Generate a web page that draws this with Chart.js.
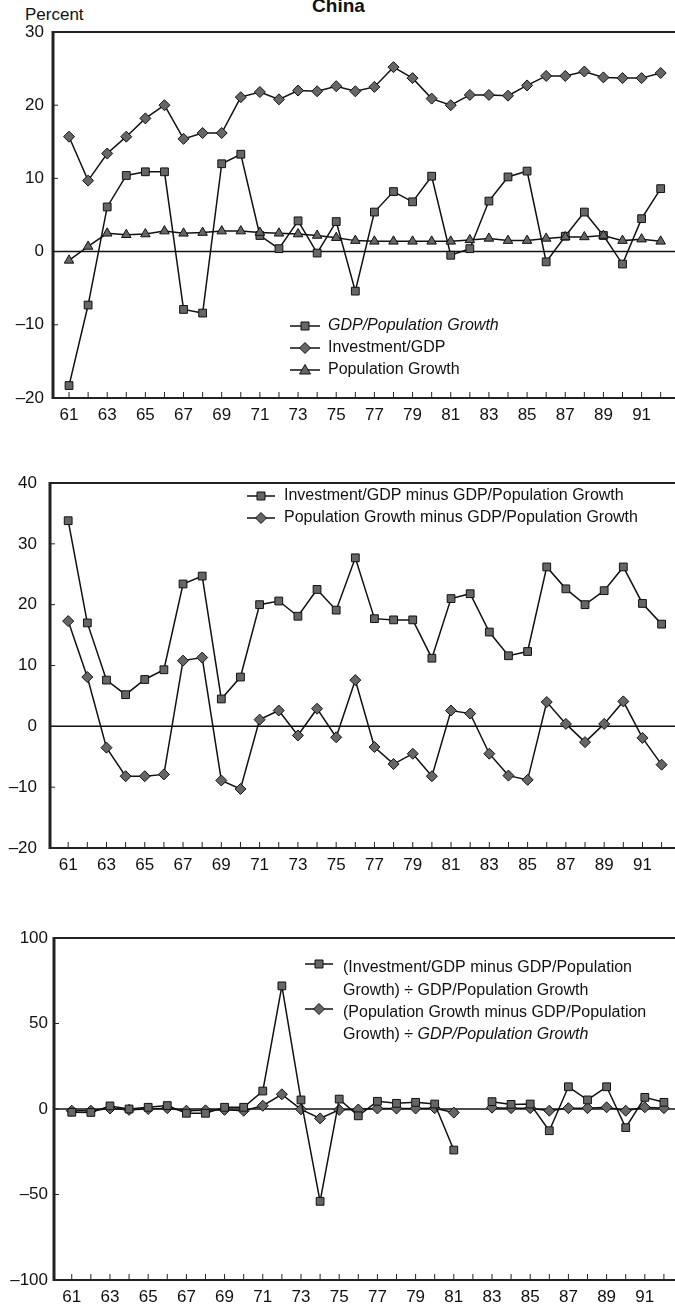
<!DOCTYPE html>
<html>
<head>
<meta charset="utf-8">
<script src="https://cdn.jsdelivr.net/npm/chart.js@4.4.0/dist/chart.umd.min.js"></script>
<style>
  body { margin: 0; background: #fff; width: 675px; height: 1310px; position: relative; overflow: hidden;
         font-family: "Liberation Sans", Arial, sans-serif; color: #111; }
  canvas { position: absolute; left: 0; }
  #title { position: absolute; left: 0; width: 675px; top: -5px; text-align: center; font-weight: bold; font-size: 19px; padding-left: 1px; }
  #unit { position: absolute; left: 25px; top: 5px; font-size: 17px; }
</style>
</head>
<body>
<div id="title">China</div>
<div id="unit">Percent</div>
<canvas id="c1" width="675" height="430" style="top:0"></canvas>
<canvas id="c2" width="675" height="440" style="top:440px"></canvas>
<canvas id="c3" width="675" height="410" style="top:900px"></canvas>
<script>
const years = [61, 62, 63, 64, 65, 66, 67, 68, 69, 70, 71, 72, 73, 74, 75, 76,
               77, 78, 79, 80, 81, 82, 83, 84, 85, 86, 87, 88, 89, 90, 91, 92];
const xLabelYears = [61, 63, 65, 67, 69, 71, 73, 75, 77, 79, 81, 83, 85, 87, 89, 91];

// top panel
const gdpPopGrowth = [-18.3, -7.3, 6.1, 10.4, 10.9, 10.9, -7.9, -8.4, 12.0, 13.3,
                      2.2, 0.4, 4.2, -0.2, 4.1, -5.4, 5.4, 8.2, 6.8, 10.3,
                      -0.5, 0.4, 6.9, 10.2, 11.0, -1.4, 2.1, 5.4, 2.2, -1.7, 4.5, 8.6];
const investmentGdp = [15.7, 9.7, 13.4, 15.7, 18.2, 20.0, 15.4, 16.2, 16.2, 21.1,
                       21.8, 20.8, 22.0, 21.9, 22.6, 21.9, 22.5, 25.2, 23.7, 20.9,
                       20.0, 21.4, 21.4, 21.3, 22.7, 24.0, 24.0, 24.6, 23.8, 23.7, 23.7, 24.4];
const popGrowth = [-1.2, 0.7, 2.5, 2.3, 2.4, 2.8, 2.5, 2.6, 2.8, 2.8,
                   2.6, 2.5, 2.4, 2.2, 1.9, 1.5, 1.4, 1.4, 1.4, 1.4,
                   1.4, 1.6, 1.8, 1.5, 1.5, 1.8, 2.0, 2.0, 2.2, 1.5, 1.7, 1.4];
const yTicksTop = [-20, -10, 0, 10, 20, 30];

// middle panel
const invMinusGdp = [33.8, 17.0, 7.6, 5.2, 7.7, 9.3, 23.4, 24.7, 4.5, 8.1,
                     20.0, 20.6, 18.1, 22.5, 19.1, 27.7, 17.7, 17.5, 17.5, 11.2,
                     21.0, 21.8, 15.5, 11.6, 12.3, 26.2, 22.6, 20.0, 22.3, 26.2, 20.2, 16.8];
const popMinusGdp = [17.3, 8.1, -3.5, -8.2, -8.2, -7.9, 10.8, 11.3, -8.9, -10.3,
                     1.1, 2.6, -1.5, 2.9, -1.8, 7.6, -3.4, -6.2, -4.5, -8.2,
                     2.6, 2.1, -4.5, -8.1, -8.8, 4.0, 0.4, -2.6, 0.4, 4.1, -1.9, -6.3];
const yTicksMid = [-20, -10, 0, 10, 20, 30, 40];

// bottom panel (1982 left out: divisor near zero)
const invRatio = [-1.9, -2.0, 1.8, 0.0, 1.0, 2.0, -2.5, -2.5, 1.0, 1.0,
                  10.5, 72.0, 5.3, -54.0, 5.8, -4.0, 4.5, 3.3, 3.9, 2.9,
                  -24.0, null, 4.3, 2.7, 2.9, -12.7, 13.0, 5.3, 13.0, -10.9, 6.8, 3.9];
const popRatio = [-1.0, -1.0, 0.3, -0.5, 0.0, 0.5, -1.0, -0.8, -0.5, -1.0,
                  1.9, 8.6, -0.2, -5.5, -0.5, -0.3, 0.3, 0.3, 0.3, 0.5,
                  -2.1, null, 0.8, 0.5, 0.5, -1.0, 0.5, 0.5, 1.0, -1.0, 1.0, 0.5];
const yTicksBottom = [-100, -50, 0, 50, 100];

Chart.defaults.font.family = '"Liberation Sans", Arial, sans-serif';
Chart.defaults.color = '#111';

const INK = '#111';
const MARK = '#666';

function drawMarker(ctx, style, x, y) {
  ctx.beginPath();
  if (style === 'rect') {
    ctx.rect(x - 4, y - 4, 8, 8);
  } else if (style === 'rectRot') {
    ctx.moveTo(x, y - 5.5); ctx.lineTo(x + 5.5, y); ctx.lineTo(x, y + 5.5); ctx.lineTo(x - 5.5, y); ctx.closePath();
  } else {
    ctx.moveTo(x, y - 5.5); ctx.lineTo(x + 5.5, y + 4); ctx.lineTo(x - 5.5, y + 4); ctx.closePath();
  }
  ctx.fillStyle = MARK; ctx.fill();
  ctx.strokeStyle = INK; ctx.lineWidth = 1; ctx.stroke();
}

const framePlugin = {
  id: 'frame',
  beforeDatasetsDraw(chart) {
    const { ctx, chartArea: a, scales: { y } } = chart;
    const y0 = y.getPixelForValue(0);
    ctx.save();
    ctx.strokeStyle = INK; ctx.lineWidth = 1.5;
    ctx.beginPath(); ctx.moveTo(a.left, y0); ctx.lineTo(a.right, y0); ctx.stroke();
    ctx.restore();
  },
  afterDraw(chart, args, opts) {
    const { ctx, chartArea: a, scales: { x, y } } = chart;
    ctx.save();
    ctx.strokeStyle = '#222';
    ctx.lineWidth = 2;
    ctx.beginPath(); ctx.moveTo(a.left, a.top); ctx.lineTo(a.right, a.top); ctx.stroke();
    ctx.beginPath(); ctx.moveTo(a.left, a.bottom); ctx.lineTo(a.right, a.bottom); ctx.stroke();
    ctx.lineWidth = 3;
    ctx.beginPath(); ctx.moveTo(a.left, a.top - 1); ctx.lineTo(a.left, a.bottom + 1); ctx.stroke();
    // inward tick marks
    ctx.lineWidth = 1;
    years.forEach(v => {
      const px = x.getPixelForValue(v);
      ctx.beginPath(); ctx.moveTo(px, a.bottom); ctx.lineTo(px, a.bottom - 6); ctx.stroke();
    });
    y.ticks.forEach(t => {
      const py = y.getPixelForValue(t.value);
      ctx.beginPath(); ctx.moveTo(a.left, py); ctx.lineTo(a.left + 5, py); ctx.stroke();
    });
    // legend
    (opts.items || []).forEach(it => {
      ctx.strokeStyle = INK; ctx.lineWidth = 1.5;
      ctx.beginPath(); ctx.moveTo(it.x1, it.y); ctx.lineTo(it.x2, it.y); ctx.stroke();
      drawMarker(ctx, it.style, (it.x1 + it.x2) / 2, it.y);
      ctx.fillStyle = INK; ctx.textBaseline = 'middle'; ctx.textAlign = 'left';
      it.lines.forEach(ln => {
        let tx = it.tx;
        ln.segs.forEach(s => {
          ctx.font = (s.it ? 'italic ' : '') + '16px "Liberation Sans", Arial, sans-serif';
          ctx.fillText(s.t, tx, ln.y);
          tx += ctx.measureText(s.t).width;
        });
      });
    });
    ctx.restore();
  }
};

function series(values, style) {
  return {
    data: years.map((yr, i) => ({ x: yr, y: values[i] })),
    borderColor: INK,
    borderWidth: 1.5,
    pointStyle: style,
    pointRadius: 5.5,
    pointBackgroundColor: MARK,
    pointBorderColor: INK,
    pointBorderWidth: 1,
    spanGaps: false,
    tension: 0,
    clip: false
  };
}

function makeChart(id, cfg) {
  return new Chart(document.getElementById(id), {
    type: 'line',
    data: { datasets: cfg.datasets },
    options: {
      responsive: false,
      animation: false,
      events: [],
      layout: { autoPadding: false, padding: { top: cfg.top, right: 0, left: 0, bottom: 0 } },
      plugins: { legend: { display: false }, tooltip: { enabled: false }, frame: { items: cfg.legend } },
      scales: {
        x: {
          type: 'linear',
          min: cfg.xMin, max: cfg.xMax,
          afterBuildTicks: axis => { axis.ticks = years.map(v => ({ value: v })); },
          afterFit: s => { s.height = cfg.xHeight; s.paddingLeft = 0; s.paddingRight = 0; },
          grid: { display: false, drawTicks: false },
          border: { display: false },
          ticks: {
            autoSkip: false, maxRotation: 0, padding: 7,
            font: { size: 17 },
            callback: v => xLabelYears.includes(v) ? String(v) : ''
          }
        },
        y: {
          min: cfg.yTicks[0], max: cfg.yTicks[cfg.yTicks.length - 1],
          afterBuildTicks: axis => { axis.ticks = cfg.yTicks.map(v => ({ value: v })); },
          afterFit: s => { s.width = cfg.left; },
          grid: { display: false, drawTicks: false },
          border: { display: false },
          ticks: {
            padding: cfg.yPad,
            font: { size: 17 },
            callback: v => v < 0 ? '\u2013' + (-v) : String(v)
          }
        }
      }
    },
    plugins: [framePlugin]
  });
}

makeChart('c1', {
  top: 32, left: 53, xHeight: 32, yPad: 9, xMin: 60.16, xMax: 92.75,
  yTicks: yTicksTop,
  datasets: [series(popGrowth, 'triangle'), series(gdpPopGrowth, 'rect'), series(investmentGdp, 'rectRot')],
  legend: [
    { x1: 290, x2: 320, y: 326, style: 'rect', tx: 328, lines: [{ y: 326, segs: [{ t: 'GDP/Population Growth', it: true }] }] },
    { x1: 290, x2: 320, y: 348, style: 'rectRot', tx: 328, lines: [{ y: 348, segs: [{ t: 'Investment/GDP' }] }] },
    { x1: 290, x2: 320, y: 370, style: 'triangle', tx: 328, lines: [{ y: 370, segs: [{ t: 'Population Growth' }] }] }
  ]
});

makeChart('c2', {
  top: 43, left: 50, xHeight: 32, yPad: 13, xMin: 60.05, xMax: 92.7,
  yTicks: yTicksMid,
  datasets: [series(invMinusGdp, 'rect'), series(popMinusGdp, 'rectRot')],
  legend: [
    { x1: 247, x2: 275, y: 56, style: 'rect', tx: 284, lines: [{ y: 56, segs: [{ t: 'Investment/GDP minus GDP/Population Growth' }] }] },
    { x1: 247, x2: 275, y: 78, style: 'rectRot', tx: 284, lines: [{ y: 78, segs: [{ t: 'Population Growth minus GDP/Population Growth' }] }] }
  ]
});

makeChart('c3', {
  top: 38, left: 54, xHeight: 30, yPad: 6, xMin: 60.07, xMax: 92.58,
  yTicks: yTicksBottom,
  datasets: [series(invRatio, 'rect'), series(popRatio, 'rectRot')],
  legend: [
    { x1: 305, x2: 333, y: 64, style: 'rect', tx: 343, lines: [
      { y: 68, segs: [{ t: '(Investment/GDP minus GDP/Population' }] },
      { y: 91, segs: [{ t: 'Growth) \u00f7 GDP/Population Growth' }] }] },
    { x1: 305, x2: 333, y: 109, style: 'rectRot', tx: 343, lines: [
      { y: 113, segs: [{ t: '(Population Growth minus GDP/Population' }] },
      { y: 135, segs: [{ t: 'Growth) \u00f7 ' }, { t: 'GDP/Population Growth', it: true }] }] }
  ]
});
</script>
</body>
</html>
